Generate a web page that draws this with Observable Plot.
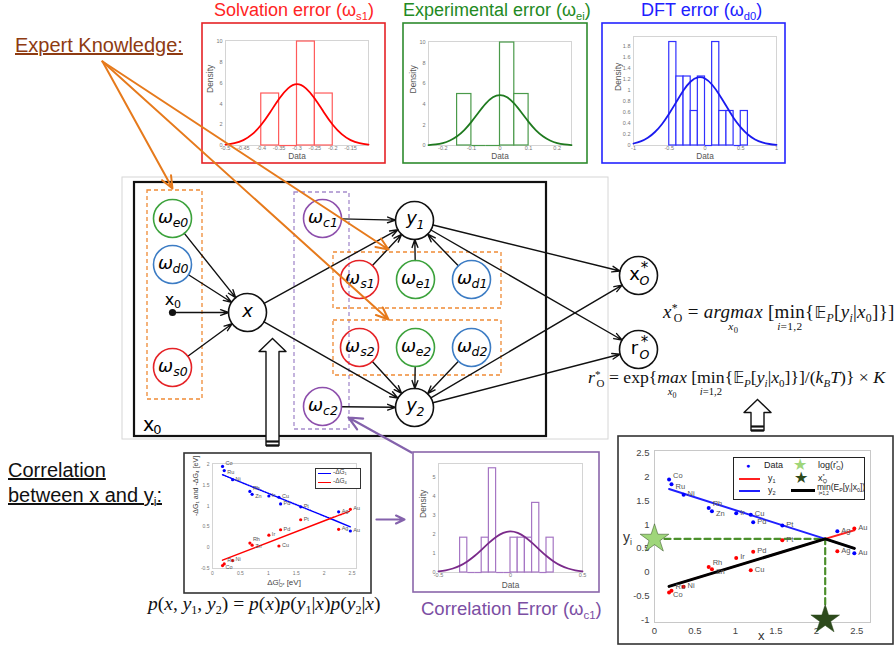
<!DOCTYPE html>
<html><head><meta charset="utf-8">
<script src="https://cdn.jsdelivr.net/npm/d3@7"></script>
<script src="https://cdn.jsdelivr.net/npm/@observablehq/plot@0.6"></script>
<style>
body{margin:0;background:#fff;}
#root{position:relative;width:894px;height:648px;overflow:hidden;background:#fff;font-family:"Liberation Sans",Arial,sans-serif;}
.t{position:absolute;white-space:nowrap;line-height:1;}
.t sub{font-size:0.62em;vertical-align:-0.35em;line-height:0;}
.t sup{font-size:0.62em;vertical-align:0.5em;line-height:0;}
.m{font-family:"Liberation Serif","Times New Roman",serif;}
.op{position:relative;display:inline-block;}
.un{position:absolute;left:50%;top:100%;transform:translate(-50%,0px);font-size:0.6em;line-height:1;}
.un sub{font-size:0.75em;}
.dbl{font-family:"DejaVu Sans",sans-serif;font-size:0.85em;}
</style></head>
<body><div id="root"></div>
<script>
// ---------- histogram data ----------
// Solvation error (omega_s1)
const solvBinLo = [-0.40, -0.35, -0.30, -0.25];
const solvBinHi = [-0.35, -0.30, -0.25, -0.20];
const solvDensity = [5, 0, 10, 5];
const solvCurveX = [-0.5,-0.475,-0.45,-0.425,-0.4,-0.375,-0.35,-0.325,-0.3,-0.275,-0.25,-0.225,-0.2,-0.175,-0.15,-0.125,-0.1];
const solvCurveY = [0.08,0.22,0.52,1.09,2.0,3.2,4.5,5.5,5.9,5.5,4.5,3.2,2.0,1.09,0.52,0.22,0.08];
const solvXTicks = [-0.5,-0.45,-0.4,-0.35,-0.3,-0.25,-0.2,-0.15];
const solvYTicks = [0,2,4,6,8,10];
// Experimental error (omega_ei)
const expBinLo = [-0.15,-0.10,-0.05,0,0.05];
const expBinHi = [-0.10,-0.05,0,0.05,0.10];
const expDensity = [5,0,0,10,5];
const expCurveX = [-0.25,-0.225,-0.2,-0.175,-0.15,-0.125,-0.1,-0.075,-0.05,-0.025,0,0.025,0.05,0.075,0.1,0.125,0.15,0.175,0.2,0.225,0.25];
const expCurveY = [0.04,0.11,0.24,0.49,0.9,1.5,2.3,3.2,4.06,4.68,4.9,4.68,4.06,3.2,2.3,1.5,0.9,0.49,0.24,0.11,0.04];
const expXTicks = [-0.2,-0.1,0,0.1,0.2];
const expYTicks = [0,2,4,6,8,10];
// DFT error (omega_d0)
const dftBinLo = [-0.5,-0.4,-0.3,-0.2,-0.1,0,0.1,0.2,0.3,0.4,0.5];
const dftBinHi = [-0.4,-0.3,-0.2,-0.1,0,0.1,0.2,0.3,0.4,0.5,0.6];
const dftDensity = [1.875,1.25,1.25,0.625,1.25,0,1.875,0.625,0.625,0,0.625];
const dftCurveX = [-1,-0.9,-0.8,-0.7,-0.6,-0.5,-0.4,-0.3,-0.2,-0.1,0,0.1,0.2,0.3,0.4,0.5,0.6,0.7,0.8,0.9,1];
const dftCurveY = [0.036,0.075,0.14,0.245,0.39,0.58,0.79,1.0,1.16,1.235,1.215,1.10,0.92,0.71,0.50,0.33,0.20,0.11,0.056,0.027,0.012];
const dftXTicks = [-1,-0.5,0,0.5,1];
const dftYTicks = [0,0.2,0.4,0.6,0.8,1,1.2,1.4,1.6,1.8];
// Correlation error (omega_c1)
const corrBinLo = [-0.35,-0.30,-0.25,-0.20,-0.15,-0.10,-0.05,0,0.05,0.10,0.15,0.20,0.25];
const corrBinHi = [-0.30,-0.25,-0.20,-0.15,-0.10,-0.05,0,0.05,0.10,0.15,0.20,0.25,0.30];
const corrDensity = [1.82,0,0,1.82,5.45,0,0,1.82,1.82,1.82,3.64,0,1.82];
const corrCurveX = [-0.5,-0.45,-0.4,-0.35,-0.3,-0.25,-0.2,-0.15,-0.1,-0.05,0,0.05,0.1,0.15,0.2,0.25,0.3,0.35,0.4,0.45,0.5];
const corrCurveY = [0.056,0.11,0.21,0.36,0.58,0.86,1.2,1.55,1.86,2.07,2.15,2.07,1.86,1.55,1.2,0.86,0.58,0.36,0.21,0.11,0.056];
const corrXTicks = [-0.5,0,0.5];
const corrYTicks = [0,1,2,3,4,5];

// ---------- scatter data ----------
const metals = ["Co","Ru","Ni","Rh","Zn","Ir","Cu","Pd","Pt","Ag","Au"];
const dGO    = [0.18,0.21,0.36,0.67,0.71,1.01,1.19,1.22,1.58,2.26,2.47];
const negDG1 = [1.95,1.85,1.63,1.35,1.28,1.24,1.21,1.05,0.98,0.86,0.40];
const negDG4 = [-0.43,-0.39,-0.31,0.11,0.06,0.30,0.04,0.43,0.67,0.44,0.92];
const fitX  = [0.18, 2.11, 2.47];
const fitY1 = [-0.30, 0.70, 0.88];   // y1 / -dG4 (red)
const fitY2 = [1.75, 0.70, 0.50];    // y2 / -dG1 (blue)
const xOpt = 2.11, logROpt = 0.70, yFloor = -1;
const s1XTicks = [0,0.5,1,1.5,2,2.5];
const s1YTicks = [-0.5,0,0.5,1,1.5,2];
const s2XTicks = [0,0.5,1,1.5,2,2.5];
const s2YTicks = [-1,-0.5,0,0.5,1,1.5,2,2.5];
// label placement groups (to keep crowded labels apart)
const blueUp = ["Co","Rh"], blueDown = ["Ru","Zn"];
const redUp = ["Ru","Rh"], redDown = ["Co","Zn"];

// ---------- diagram (positions in diagram units) ----------
const nodeIds   = ["we0","wd0","ws0","x","wc1","wc2","y1","ws1","we1","wd1","ws2","we2","wd2","y2","xO","rO"];
const nodeBase  = ["ω","ω","ω","x","ω","ω","y","ω","ω","ω","ω","ω","ω","y","x","r"];
const nodeSub   = ["e0","d0","s0","","c1","c2","1","s1","e1","d1","s2","e2","d2","2","O","O"];
const nodeKind  = ["e","d","s","v","c","c","v","s","e","d","s","e","d","v","o","o"];
const layoutX   = [172,172,172,247,322,322,414,359,415,471,359,415,471,414,638,638];
const layoutY   = [218,264,367,312,218,406,220,279,279,279,347,347,347,407,275,349];
const edgeFrom  = ["we0","wd0","ws0","x","x","wc1","wc2","ws1","we1","wd1","ws2","we2","wd2","y1","y1","y2","y2"];
const edgeTo    = ["x","x","x","y1","y2","y1","y2","y1","y1","y1","y2","y2","y2","xO","rO","xO","rO"];
const x0Point   = [{x:172, y:312}];
const groupBoxes = [
  {x1:147,y1:190,x2:202,y2:399,kind:"orange"},
  {x1:294,y1:192,x2:349,y2:429,kind:"purple"},
  {x1:333,y1:252,x2:501,y2:308,kind:"orange"},
  {x1:333,y1:320,x2:501,y2:375,kind:"orange"}];
const mainBox = [{x1:134,y1:182,x2:546,y2:436}];
const slideFrame = [{x1:122,y1:177,x2:608,y2:439}];
const panelFrames = [
  {x1:202,y1:23,x2:385,y2:163,kind:"s"},
  {x1:403,y1:23,x2:587,y2:163,kind:"g"},
  {x1:602,y1:23,x2:785,y2:163,kind:"b"},
  {x1:413,y1:452,x2:599,y2:592,kind:"p"},
  {x1:184,y1:453,x2:371,y2:593,kind:"k"},
  {x1:618,y1:436,x2:893,y2:644,kind:"k"}];
const expertArrows = [
  {x1:102,y1:61,x2:172,y2:188},
  {x1:102,y1:61,x2:388,y2:249},
  {x1:102,y1:61,x2:388,y2:319}];
const purpleArrows = [
  {x1:411,y1:452,x2:348,y2:417},
  {x1:376,y1:519,x2:404,y2:519}];
const blockArrows = [
  {id:"a", cx:272, tipY:338, headY:351, baseY:445, headW:27, shaftW:13},
  {id:"b", cx:757, tipY:399, headY:412, baseY:430, headW:27, shaftW:13}];

const kindColor = {e:"#3ca23c", d:"#3c7cc4", s:"#e52226", c:"#8d4fac", v:"#111", o:"#111",
  orange:"#ef8a35", purple:"#a58ccc", g:"#2e8b2e", b:"#2424ff", p:"#8a66aa", k:"#333"};
const SANS = "Liberation Sans, Arial, sans-serif";
const fmt = d => String(d);

const root = document.getElementById("root");
function place(svg, left, top, w) {
  const d = document.createElement("div");
  d.style.cssText = `position:absolute;left:${left}px;top:${top}px;width:${w}px;`;
  d.appendChild(svg); root.appendChild(d);
}
function html(str, css, cls) {
  const d = document.createElement("div");
  d.className = "t" + (cls ? " " + cls : "");
  d.style.cssText += css; d.innerHTML = str; root.appendChild(d);
}

function hist(o) {
  const bins = o.lo.map((lo,i)=>({lo, hi:o.hi[i], d:o.dens[i]}));
  const curve = o.cx.map((x,i)=>({x, y:o.cy[i]}));
  return Plot.plot({
    width:o.w, height:o.h, marginLeft:o.ml, marginRight:o.mr, marginTop:o.mt, marginBottom:o.mb,
    x:{domain:o.xd, ticks:o.xt, tickFormat:fmt, tickSize:0, tickPadding:1, label:null},
    y:{domain:o.yd, ticks:o.yt, tickFormat:fmt, tickSize:0, tickPadding:3, label:null},
    style:{fontSize:"5.5px", color:"#777", background:"transparent", fontFamily:SANS},
    marks:[
      Plot.frame({stroke:"#d4d4d4"}),
      Plot.rect(bins.filter(b=>b.d>0), {x1:"lo", x2:"hi", y1:()=>0, y2:"d", stroke:o.bar, fill:"white", strokeWidth:1.2}),
      Plot.link(bins.filter(b=>b.d===0), {x1:"lo", x2:"hi", y1:()=>0, y2:()=>0, stroke:o.bar, strokeWidth:1.2}),
      Plot.line(curve, {x:"x", y:"y", curve:"natural", stroke:o.line, strokeWidth:1.8}),
      Plot.text(["Density"], {text:d=>d, frameAnchor:"left", rotate:-90, dx:-15, fontSize:8.5, fill:"#555"}),
      Plot.text(["Data"], {text:d=>d, frameAnchor:"bottom", dy:o.mb - 3.2, fontSize:8.3, fill:"#555"})
    ]});
}

place(hist({lo:solvBinLo, hi:solvBinHi, dens:solvDensity, cx:solvCurveX, cy:solvCurveY, xd:[-0.5,-0.1], yd:[0,10.1], xt:solvXTicks, yt:solvYTicks,
  w:181, h:138, ml:22, mr:16, mt:16, mb:17, bar:"#ff5a5a", line:"#ff0000"}), 203, 24, 181);
place(hist({lo:expBinLo, hi:expBinHi, dens:expDensity, cx:expCurveX, cy:expCurveY, xd:[-0.25,0.25], yd:[0,10.1], xt:expXTicks, yt:expYTicks,
  w:182, h:138, ml:24, mr:15, mt:17, mb:17, bar:"#4a9a4a", line:"#1f7a1f"}), 404, 24, 182);
place(hist({lo:dftBinLo, hi:dftBinHi, dens:dftDensity, cx:dftCurveX, cy:dftCurveY, xd:[-1,1], yd:[0,1.975], xt:dftXTicks, yt:dftYTicks,
  w:181, h:138, ml:30, mr:8, mt:12, mb:17, bar:"#3030ff", line:"#1a1aee"}), 603, 24, 181);
place(hist({lo:corrBinLo, hi:corrBinHi, dens:corrDensity, cx:corrCurveX, cy:corrCurveY, xd:[-0.5,0.5], yd:[0,5.7], xt:corrXTicks, yt:corrYTicks,
  w:184, h:138, ml:24, mr:16, mt:10, mb:19, bar:"#a676c4", line:"#7a2a8a"}), 414, 453, 184);

// ---------- scatter helpers ----------
const pts = metals.map((m,i)=>({m, x:dGO[i], g1:negDG1[i], g4:negDG4[i]}));
const fit = fitX.map((x,i)=>({x, y1:fitY1[i], y2:fitY2[i], ymin:Math.min(fitY1[i], fitY2[i])}));
function pointLabels(key, up, down, fs, dxv, shift) {
  const mid = pts.filter(p=>!up.includes(p.m) && !down.includes(p.m));
  const o = {x:"x", y:key, text:"m", dx:dxv, textAnchor:"start", fontSize:fs, fill:"#555"};
  return [
    Plot.text(mid, {...o, dy:-1}),
    Plot.text(pts.filter(p=>up.includes(p.m)), {...o, dy:-1-shift}),
    Plot.text(pts.filter(p=>down.includes(p.m)), {...o, dy:-1+shift})
  ];
}

// ---------- scatter 1 ----------
const s1 = Plot.plot({
  width:185, height:138, marginLeft:27, marginRight:14, marginTop:9, marginBottom:24,
  x:{domain:[0,2.58], ticks:s1XTicks, tickFormat:fmt, tickSize:0, tickPadding:3, label:null},
  y:{domain:[-0.5,2.02], ticks:s1YTicks, tickFormat:fmt, tickSize:0, tickPadding:3, label:null},
  style:{fontSize:"5px", color:"#777", background:"transparent", fontFamily:SANS},
  marks:[
    Plot.frame({stroke:"#d4d4d4"}),
    Plot.line(fit.slice(0,2), {x:"x", y:"y2", stroke:"blue", strokeWidth:1.5, strokeDasharray:"1.5,1.2"}),
    Plot.line(fit.slice(1), {x:"x", y:"y2", stroke:"blue", strokeWidth:1.5}),
    Plot.line(fit.slice(0,2), {x:"x", y:"y1", stroke:"red", strokeWidth:1.5}),
    Plot.line(fit.slice(1), {x:"x", y:"y1", stroke:"red", strokeWidth:1.5, strokeDasharray:"1.5,1.2"}),
    Plot.dot(pts, {x:"x", y:"g1", r:1.6, fill:"blue"}),
    Plot.dot(pts, {x:"x", y:"g4", r:1.6, fill:"red"}),
    ...pointLabels("g1", blueUp, blueDown, 5.5, 3, 2.5),
    ...pointLabels("g4", redUp, redDown, 5.5, 3, 2.5),
    Plot.text(["-ΔG₁ and -ΔG₄ [eV]"], {text:d=>d, frameAnchor:"left", rotate:-90, dx:-17, fontSize:7, fill:"#444"})
  ]});
place(s1, 185, 454, 185);

// ---------- scatter 2 ----------
const dashPts = [{x:0,y:logROpt},{x:xOpt,y:logROpt},{x:xOpt,y:yFloor}];
const stars = [{x:0, y:logROpt, c:"#9fd67a"},{x:xOpt, y:yFloor, c:"#2d4a1c"}];
const s2 = Plot.plot({
  width:273, height:206, marginLeft:35, marginRight:22, marginTop:13, marginBottom:21,
  x:{domain:[0,2.67], ticks:s2XTicks, tickFormat:fmt, tickSize:0, tickPadding:5, label:null},
  y:{domain:[-1.06,2.56], ticks:s2YTicks, tickFormat:fmt, tickSize:0, tickPadding:5, label:null},
  style:{fontSize:"9.5px", color:"#444", background:"transparent", fontFamily:SANS},
  marks:[
    Plot.frame({stroke:"#c8c8c8"}),
    Plot.line(dashPts, {x:"x", y:"y", stroke:"#4b8f2b", strokeWidth:2.2, strokeDasharray:"6,4"}),
    Plot.line(fit, {x:"x", y:"y1", stroke:"#ff2020", strokeWidth:2}),
    Plot.line(fit, {x:"x", y:"y2", stroke:"#2020ff", strokeWidth:2}),
    Plot.line(fit, {x:"x", y:"ymin", stroke:"#000", strokeWidth:3}),
    Plot.dot(pts, {x:"x", y:"g1", r:2, fill:"blue"}),
    Plot.dot(pts, {x:"x", y:"g4", r:2, fill:"red"}),
    ...pointLabels("g1", blueUp, blueDown, 7.5, 4, 3),
    ...pointLabels("g4", redUp, redDown, 7.5, 4, 3),
    Plot.dot(stars, {x:"x", y:"y", symbol:"star", r:9, fill:"c", stroke:"#2d4a1c", strokeWidth:0.5})
  ]});
place(s2, 619, 437, 273);

// ---------- overlay diagram ----------
const nodes = nodeIds.map((id,i)=>({id, base:nodeBase[i], sub:nodeSub[i], kind:nodeKind[i], x:layoutX[i], y:layoutY[i]}));
const byId = Object.fromEntries(nodes.map(n=>[n.id,n]));
const edges = edgeFrom.map((f,i)=>({x1:byId[f].x, y1:byId[f].y, x2:byId[edgeTo[i]].x, y2:byId[edgeTo[i]].y}));
const x0Edge = [{x1:x0Point[0].x, y1:x0Point[0].y, x2:byId.x.x, y2:byId.x.y}];
function blockPoly(a){
  const hw=a.headW/2, sw=a.shaftW/2;
  return [[a.cx,a.tipY],[a.cx+hw,a.headY],[a.cx+sw,a.headY],[a.cx+sw,a.baseY],[a.cx-sw,a.baseY],[a.cx-sw,a.headY],[a.cx-hw,a.headY],[a.cx,a.tipY]]
    .map(([x,y])=>({id:a.id,x,y}));
}
const blockPts = blockArrows.flatMap(blockPoly);
const blockFeet = blockArrows.flatMap(a=>[
  {x1:a.cx-a.shaftW/2, x2:a.cx+a.shaftW/2, y:a.baseY-4},
  {x1:a.cx-a.shaftW/2, x2:a.cx+a.shaftW/2, y:a.baseY}]);
const omegaNodes = nodes.filter(n=>n.base==="ω");
const yNodes = nodes.filter(n=>n.kind==="v" && n.sub);
const xNode = nodes.filter(n=>n.kind==="v" && !n.sub);
const outNodes = nodes.filter(n=>n.kind==="o");
const NF = "DejaVu Sans, sans-serif";

const overlay = Plot.plot({
  width:894, height:648, margin:0,
  x:{domain:[0,894], range:[0,894], axis:null},
  y:{domain:[0,648], range:[0,648], axis:null},
  style:{background:"transparent", fontFamily:NF, overflow:"visible"},
  marks:[
    Plot.rect(slideFrame, {x1:"x1", x2:"x2", y1:"y1", y2:"y2", fill:"none", stroke:"#d6d6d6", strokeWidth:1}),
    Plot.rect(mainBox, {x1:"x1", x2:"x2", y1:"y1", y2:"y2", fill:"none", stroke:"#111", strokeWidth:2.2}),
    Plot.rect(panelFrames, {x1:"x1", x2:"x2", y1:"y1", y2:"y2", fill:"none", stroke:d=>kindColor[d.kind], strokeWidth:1.6}),
    Plot.rect(groupBoxes, {x1:"x1", x2:"x2", y1:"y1", y2:"y2", fill:"none", stroke:d=>kindColor[d.kind], strokeWidth:1.3, strokeDasharray:"4,3"}),
    Plot.arrow(edges, {x1:"x1", y1:"y1", x2:"x2", y2:"y2", insetStart:19, insetEnd:19, stroke:"#111", strokeWidth:1.4, headLength:9, headAngle:40}),
    Plot.arrow(x0Edge, {x1:"x1", y1:"y1", x2:"x2", y2:"y2", insetStart:3, insetEnd:19, stroke:"#111", strokeWidth:1.4, headLength:9, headAngle:40}),
    Plot.dot(nodes, {x:"x", y:"y", r:19, fill:"none", stroke:d=>kindColor[d.kind], strokeWidth:1.6}),
    Plot.dot(x0Point, {x:"x", y:"y", r:3.6, fill:"#111"}),
    Plot.text(x0Point, {x:"x", y:"y", text:()=>"x", dx:-3, dy:-13, fontSize:16, fontFamily:NF}),
    Plot.text(x0Point, {x:"x", y:"y", text:()=>"0", dx:5, dy:-8, fontSize:11, fontFamily:NF}),
    Plot.text(omegaNodes, {x:"x", y:"y", text:"base", dx:-7, dy:-1, fontSize:18, fontStyle:"italic"}),
    Plot.text(omegaNodes, {x:"x", y:"y", text:"sub", dx:8, dy:4, fontSize:12.5, fontStyle:"italic"}),
    Plot.text(yNodes, {x:"x", y:"y", text:"base", dx:-3, dy:-2, fontSize:18, fontStyle:"italic"}),
    Plot.text(yNodes, {x:"x", y:"y", text:"sub", dx:6, dy:4, fontSize:12.5, fontStyle:"italic"}),
    Plot.text(xNode, {x:"x", y:"y", text:"base", dy:-1, fontSize:18, fontStyle:"italic"}),
    Plot.text(outNodes, {x:"x", y:"y", text:"base", dx:-4, dy:-1, fontSize:18}),
    Plot.text(outNodes, {x:"x", y:"y", text:()=>"*", dx:6, dy:-7, fontSize:15}),
    Plot.text(outNodes, {x:"x", y:"y", text:"sub", dx:6, dy:5, fontSize:12.5, fontStyle:"italic"}),
    Plot.text(mainBox, {x:"x1", y:"y2", text:()=>"x", dx:14, dy:-12, fontSize:19}),
    Plot.text(mainBox, {x:"x1", y:"y2", text:()=>"0", dx:23, dy:-7, fontSize:13}),
    Plot.arrow(expertArrows, {x1:"x1", y1:"y1", x2:"x2", y2:"y2", stroke:"#e67a1c", strokeWidth:2, headLength:10, headAngle:45}),
    Plot.arrow(purpleArrows, {x1:"x1", y1:"y1", x2:"x2", y2:"y2", stroke:"#8462ac", strokeWidth:2.2, headLength:10, headAngle:50}),
    Plot.line(blockPts, {x:"x", y:"y", z:"id", fill:"white", stroke:"#111", strokeWidth:1.4}),
    Plot.link(blockFeet, {x1:"x1", x2:"x2", y1:"y", y2:"y", stroke:"#111", strokeWidth:2.2})
  ]});
place(overlay, 0, 0, 894);

// ---------- HTML text ----------
html('Solvation error (ω<sub>s1</sub>)', 'left:214px;top:1px;font-size:18px;color:#ff2424;');
html('Experimental error (ω<sub>ei</sub>)', 'left:403px;top:1px;font-size:18px;color:#238a23;');
html('DFT error (ω<sub>d0</sub>)', 'left:641px;top:1px;font-size:18px;color:#2020ff;');
html('Expert Knowledge:', 'left:15px;top:35px;font-size:20px;color:#8e3b12;text-decoration:underline;');
html('Correlation', 'left:8px;top:460px;font-size:20px;color:#111;text-decoration:underline;');
html('between x and y<sub>i</sub>:', 'left:8px;top:485px;font-size:20px;color:#111;text-decoration:underline;');
html('Correlation Error (ω<sub>c1</sub>)', 'left:421px;top:600px;font-size:18.5px;color:#7b4ea3;');
html('<i>p</i>(<i>x</i>, <i>y</i><sub>1</sub>, <i>y</i><sub>2</sub>) = <i>p</i>(<i>x</i>)<i>p</i>(<i>y</i><sub>1</sub>|<i>x</i>)<i>p</i>(<i>y</i><sub>2</sub>|<i>x</i>)',
  'left:148px;top:594px;font-size:19.5px;color:#111;', 'm');
html('<i>x</i><sup>*</sup><sub style="margin-left:-0.35em">O</sub> = <span class="op"><i>argmax</i><span class="un"><i>x</i><sub>0</sub></span></span> [<span class="op">min<span class="un"><i>i</i>=1,2</span></span>{<span class="dbl">𝔼</span><sub><i>P</i></sub>[<i>y<sub>i</sub></i>|<i>x</i><sub>0</sub>]}]',
  'left:663px;top:302px;font-size:19px;letter-spacing:0.3px;color:#111;', 'm');
html('<i>r</i><sup>*</sup><sub style="margin-left:-0.35em">O</sub> = exp{<span class="op"><i>max</i><span class="un"><i>x</i><sub>0</sub></span></span> [<span class="op">min<span class="un"><i>i</i>=1,2</span></span>{<span class="dbl">𝔼</span><sub><i>P</i></sub>[<i>y<sub>i</sub></i>|<i>x</i><sub>0</sub>]}]/(<i>k<sub>B</sub>T</i>)} × <i>K</i>',
  'left:588px;top:369px;font-size:17.7px;color:#111;', 'm');
// scatter 1 labels and legend
html('ΔG<sup>f</sup><sub style="margin-left:-0.3em">O*</sub> [eV]', 'left:284px;top:579px;font-size:8px;color:#444;transform:translateX(-50%);');
html('', 'left:315px;top:468px;width:44px;height:19px;border:0.8px solid #333;background:#fff;');
html('', 'left:318px;top:473px;width:13px;border-top:1.5px solid blue;');
html('-ΔG<sub>1</sub>', 'left:333px;top:469px;font-size:6.5px;color:#444;');
html('', 'left:318px;top:482px;width:13px;border-top:1.5px solid red;');
html('-ΔG<sub>4</sub>', 'left:333px;top:478px;font-size:6.5px;color:#444;');
// scatter 2 labels and legend
html('x', 'left:758px;top:629px;font-size:13px;color:#333;');
html('y<sub>i</sub>', 'left:623px;top:530px;font-size:14px;color:#333;');
html('', 'left:733px;top:457px;width:130px;height:41px;border:1px solid #222;background:#fff;');
html('●', 'left:746px;top:462px;font-size:7px;color:blue;');
html('Data', 'left:764px;top:461px;font-size:9px;color:#222;');
html('★', 'left:793px;top:457px;font-size:16px;color:#9fd67a;');
html('log(r<sup>*</sup><sub style="margin-left:-0.35em">O</sub>)', 'left:818px;top:461px;font-size:9px;color:#222;');
html('', 'left:739px;top:478px;width:21px;border-top:2px solid #ff2020;');
html('y<sub>1</sub>', 'left:768px;top:474px;font-size:9px;color:#222;');
html('★', 'left:794px;top:470px;font-size:16px;color:#2d4a1c;');
html('x<sup>*</sup><sub style="margin-left:-0.35em">O</sub>', 'left:818px;top:474px;font-size:9px;color:#222;');
html('', 'left:739px;top:490px;width:21px;border-top:2px solid #2020ff;');
html('y<sub>2</sub>', 'left:768px;top:486px;font-size:9px;color:#222;');
html('', 'left:791px;top:489px;width:24px;border-top:3px solid #000;');
html('<span class="op">min<span class="un" style="font-size:0.55em;transform:translate(-50%,0px)">i=1,2</span></span>(E<sub>P</sub>[y<sub>i</sub>|x<sub>0</sub>])', 'left:817px;top:483px;font-size:8.5px;color:#222;');
</script></body></html>
